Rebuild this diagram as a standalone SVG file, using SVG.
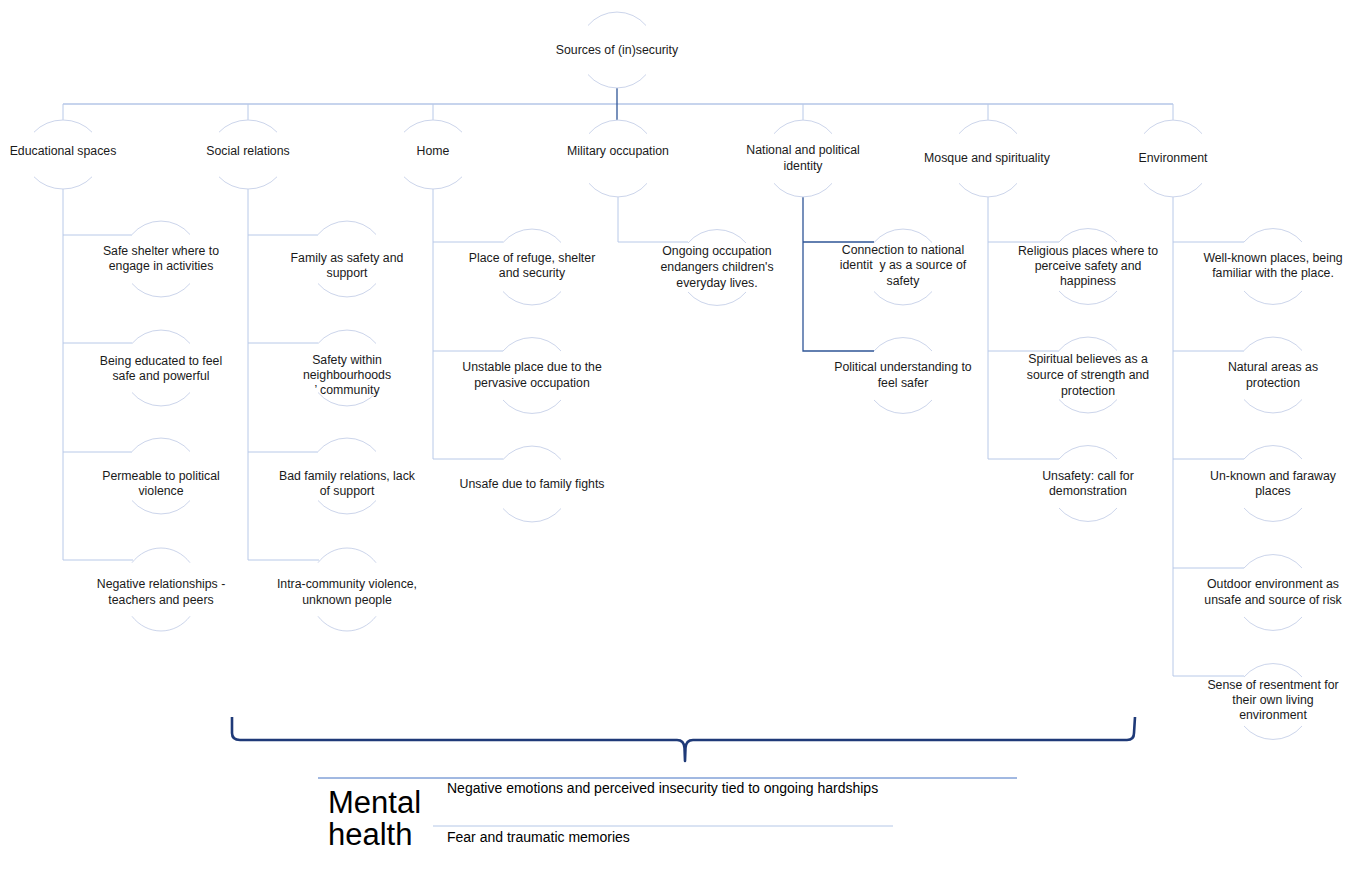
<svg xmlns="http://www.w3.org/2000/svg" width="1358" height="875" viewBox="0 0 1358 875">
<style>
.arc{fill:none;stroke:#ccd5eb;stroke-width:1}
.t{font-family:"Liberation Sans",Arial,sans-serif;font-size:12.3px;fill:#1a1a1a;text-anchor:middle}
.c{fill:none;stroke:#b8c9e8;stroke-width:1}
.bus{fill:none;stroke:#8faadc;stroke-width:1.2}
.dk{fill:none;stroke:#2f5597;stroke-width:1.3}
.b{font-family:"Liberation Sans",Arial,sans-serif;fill:#000}
</style>
<rect width="1358" height="875" fill="#fff"/>
<g id="connectors">
<path class="bus" d="M63 104H1173"/>
<path class="c" d="M63 104V120M248 104V120M433 104V120M803 104V120M988 104V120M1173 104V120"/>
<path class="dk" d="M617 88V120"/>
<path class="c" d="M63 189V560M63 235H132M63 343H132M63 452H132M63 560H133"/>
<path class="c" d="M248 189V560M248 235H318M248 343H318M248 452H318M248 560H319"/>
<path class="c" d="M433 189V459M433 242H503M433 351H503M433 459H503"/>
<path class="c" d="M618 197V242H688"/>
<path class="dk" d="M803 197V351H874M803 242H874"/>
<path class="c" d="M988 197V459M988 242H1059M988 351H1059M988 459H1059"/>
<path class="c" d="M1173 197V676M1173 242H1244M1173 351H1244M1173 459H1244M1173 568H1244M1173 676H1244"/>
</g>
<g id="root">
<path class="arc" d="M588 25.5A38 38 0 0 1 646 25.5M588 74.5A38 38 0 0 0 646 74.5"/>
<text class="t" x="617" y="54">Sources of (in)security</text>
</g>
<g id="cat-educational">
<path class="arc" d="M34 132.2A38 34.5 0 0 1 92 132.2M34 176.8A38 34.5 0 0 0 92 176.8"/>
<text class="t" x="63" y="155">Educational spaces</text>
</g>
<g id="cat-social">
<path class="arc" d="M219 132.2A38 34.5 0 0 1 277 132.2M219 176.8A38 34.5 0 0 0 277 176.8"/>
<text class="t" x="248" y="155">Social relations</text>
</g>
<g id="cat-home">
<path class="arc" d="M404 132.2A38 34.5 0 0 1 462 132.2M404 176.8A38 34.5 0 0 0 462 176.8"/>
<text class="t" x="433" y="155">Home</text>
</g>
<g id="cat-military">
<path class="arc" d="M589 133.7A38 38.5 0 0 1 647 133.7M589 183.3A38 38.5 0 0 0 647 183.3"/>
<text class="t" x="618" y="155">Military occupation</text>
</g>
<g id="cat-national">
<path class="arc" d="M774 133.7A38 38.5 0 0 1 832 133.7M774 183.3A38 38.5 0 0 0 832 183.3"/>
<text class="t" x="803" y="154">National and political</text>
<text class="t" x="803" y="170">identity</text>
</g>
<g id="cat-mosque">
<path class="arc" d="M959 133.7A38 38.5 0 0 1 1017 133.7M959 183.3A38 38.5 0 0 0 1017 183.3"/>
<text class="t" x="987" y="162">Mosque and spirituality</text>
</g>
<g id="cat-environment">
<path class="arc" d="M1144 133.7A38 38.5 0 0 1 1202 133.7M1144 183.3A38 38.5 0 0 0 1202 183.3"/>
<text class="t" x="1173" y="162">Environment</text>
</g>
<g id="edu-1">
<path class="arc" d="M132 234.5A38 38 0 0 1 190 234.5M132 283.5A38 38 0 0 0 190 283.5"/>
<text class="t" x="161" y="255">Safe shelter where to</text>
<text class="t" x="161" y="270">engage in activities</text>
</g>
<g id="edu-2">
<path class="arc" d="M132 343.5A38 38 0 0 1 190 343.5M132 392.5A38 38 0 0 0 190 392.5"/>
<text class="t" x="161" y="365">Being educated to feel</text>
<text class="t" x="161" y="380">safe and powerful</text>
</g>
<g id="edu-3">
<path class="arc" d="M132 451.5A38 38 0 0 1 190 451.5M132 500.5A38 38 0 0 0 190 500.5"/>
<text class="t" x="161" y="480">Permeable to political</text>
<text class="t" x="161" y="495">violence</text>
</g>
<g id="edu-4">
<path class="arc" d="M132 562.7A38 41.5 0 0 1 190 562.7M132 616.3A38 41.5 0 0 0 190 616.3"/>
<text class="t" x="161" y="588">Negative relationships -</text>
<text class="t" x="161" y="604">teachers and peers</text>
</g>
<g id="soc-1">
<path class="arc" d="M318 234.5A38 38 0 0 1 376 234.5M318 283.5A38 38 0 0 0 376 283.5"/>
<text class="t" x="347" y="262">Family as safety and</text>
<text class="t" x="347" y="277">support</text>
</g>
<g id="soc-2">
<path class="arc" d="M318 343.5A38 38 0 0 1 376 343.5M318 392.5A38 38 0 0 0 376 392.5"/>
<text class="t" x="347" y="364">Safety within</text>
<text class="t" x="347" y="379">neighbourhoods</text>
<text class="t" x="347" y="394">’ community</text>
</g>
<g id="soc-3">
<path class="arc" d="M318 451.5A38 38 0 0 1 376 451.5M318 500.5A38 38 0 0 0 376 500.5"/>
<text class="t" x="347" y="480">Bad family relations, lack</text>
<text class="t" x="347" y="495">of support</text>
</g>
<g id="soc-4">
<path class="arc" d="M318 562.7A38 41.5 0 0 1 376 562.7M318 616.3A38 41.5 0 0 0 376 616.3"/>
<text class="t" x="347" y="588">Intra-community violence,</text>
<text class="t" x="347" y="604">unknown people</text>
</g>
<g id="home-1">
<path class="arc" d="M503 242.5A38 38 0 0 1 561 242.5M503 291.5A38 38 0 0 0 561 291.5"/>
<text class="t" x="532" y="262">Place of refuge, shelter</text>
<text class="t" x="532" y="277">and security</text>
</g>
<g id="home-2">
<path class="arc" d="M503 351A38 38 0 0 1 561 351M503 400A38 38 0 0 0 561 400"/>
<text class="t" x="532" y="371">Unstable place due to the</text>
<text class="t" x="532" y="387">pervasive occupation</text>
</g>
<g id="home-3">
<path class="arc" d="M503 459.5A38 38 0 0 1 561 459.5M503 508.5A38 38 0 0 0 561 508.5"/>
<text class="t" x="532" y="488">Unsafe due to family fights</text>
</g>
<g id="mil-1">
<path class="arc" d="M688 243A38 38 0 0 1 746 243M688 292A38 38 0 0 0 746 292"/>
<text class="t" x="717" y="255">Ongoing occupation</text>
<text class="t" x="717" y="271">endangers children's</text>
<text class="t" x="717" y="287">everyday lives.</text>
</g>
<g id="nat-1">
<path class="arc" d="M874 242.5A38 38 0 0 1 932 242.5M874 291.5A38 38 0 0 0 932 291.5"/>
<text class="t" x="903" y="254">Connection to national</text>
<text class="t" x="903" y="269">identit&#160;&#160;y as a source of</text>
<text class="t" x="903" y="285">safety</text>
</g>
<g id="nat-2">
<path class="arc" d="M874 351A38 38 0 0 1 932 351M874 400A38 38 0 0 0 932 400"/>
<text class="t" x="903" y="371">Political understanding to</text>
<text class="t" x="903" y="387">feel safer</text>
</g>
<g id="mos-1">
<path class="arc" d="M1059 242A38 38 0 0 1 1117 242M1059 291A38 38 0 0 0 1117 291"/>
<text class="t" x="1088" y="255">Religious places where to</text>
<text class="t" x="1088" y="270">perceive safety and</text>
<text class="t" x="1088" y="285">happiness</text>
</g>
<g id="mos-2">
<path class="arc" d="M1059 350.5A38 38 0 0 1 1117 350.5M1059 399.5A38 38 0 0 0 1117 399.5"/>
<text class="t" x="1088" y="363">Spiritual believes as a</text>
<text class="t" x="1088" y="379">source of strength and</text>
<text class="t" x="1088" y="395">protection</text>
</g>
<g id="mos-3">
<path class="arc" d="M1059 459A38 38 0 0 1 1117 459M1059 508A38 38 0 0 0 1117 508"/>
<text class="t" x="1088" y="480">Unsafety: call for</text>
<text class="t" x="1088" y="495">demonstration</text>
</g>
<g id="env-1">
<path class="arc" d="M1244 242A38 38 0 0 1 1302 242M1244 291A38 38 0 0 0 1302 291"/>
<text class="t" x="1273" y="262">Well-known places, being</text>
<text class="t" x="1273" y="277">familiar with the place.</text>
</g>
<g id="env-2">
<path class="arc" d="M1244 350.5A38 38 0 0 1 1302 350.5M1244 399.5A38 38 0 0 0 1302 399.5"/>
<text class="t" x="1273" y="371">Natural areas as</text>
<text class="t" x="1273" y="387">protection</text>
</g>
<g id="env-3">
<path class="arc" d="M1244 459A38 38 0 0 1 1302 459M1244 508A38 38 0 0 0 1302 508"/>
<text class="t" x="1273" y="480">Un-known and faraway</text>
<text class="t" x="1273" y="495">places</text>
</g>
<g id="env-4">
<path class="arc" d="M1244 568A38 38 0 0 1 1302 568M1244 617A38 38 0 0 0 1302 617"/>
<text class="t" x="1273" y="588">Outdoor environment as</text>
<text class="t" x="1273" y="604">unsafe and source of risk</text>
</g>
<g id="env-5">
<path class="arc" d="M1244 677A38 38 0 0 1 1302 677M1244 726A38 38 0 0 0 1302 726"/>
<text class="t" x="1273" y="689">Sense of resentment for</text>
<text class="t" x="1273" y="704">their own living</text>
<text class="t" x="1273" y="719">environment</text>
</g>
<g id="bracket">
<path d="M232 717V733Q232 740 240 740H677Q684 740 684.5 748L685 761L685.5 748Q686 740 693 740H1127Q1134 740 1134 733L1135 717" fill="none" stroke="#1f3a78" stroke-width="2.6" stroke-linejoin="round"/>
</g>
<g id="mental-health">
<path d="M318 778H1017" stroke="#4472c4" stroke-width="1"/>
<path d="M433 826H893" stroke="#b4c7e7" stroke-width="1"/>
<text class="b" x="328" y="813" font-size="31">Mental</text>
<text class="b" x="328" y="845" font-size="31">health</text>
<text class="b" x="447" y="793" font-size="14">Negative emotions and perceived insecurity tied to ongoing hardships</text>
<text class="b" x="447" y="842" font-size="14">Fear and traumatic memories</text>
</g>
</svg>
